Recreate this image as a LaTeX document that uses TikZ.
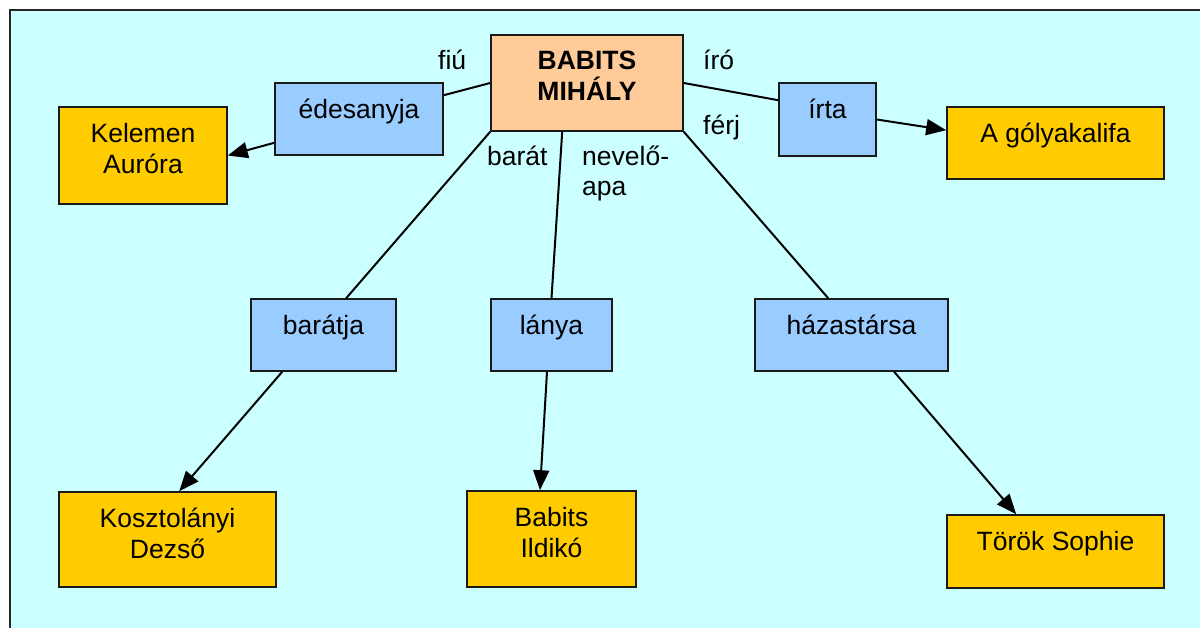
\documentclass[tikz,border=0pt]{standalone}
\usepackage{fontspec}
\setmainfont{Liberation Sans}
\usetikzlibrary{arrows.meta,calc}
\definecolor{bgcyan}{HTML}{CCFFFF}
\definecolor{relblue}{HTML}{99CCFF}
\definecolor{leafgold}{HTML}{FFCC00}
\definecolor{rootpeach}{HTML}{FFCC99}
\begin{document}
\begin{tikzpicture}[x=1pt,y=-1pt,
  box/.style={draw=black!90, line width=1.6pt, inner sep=0pt, rectangle},
  root/.style={box, fill=rootpeach},
  rel/.style={box, fill=relblue},
  leaf/.style={box, fill=leafgold},
  txt/.style={anchor=north, yshift=-17pt, align=center, inner sep=0pt, font=\fontsize{26.5}{30.5}\selectfont},
  link/.style={line width=2pt, draw=black},
  arr/.style={link, -{Triangle[length=20pt,width=16pt]}},
  lab/.style={inner sep=0pt, font=\fontsize{26.5}{30.5}\selectfont}]
\useasboundingbox (0,0) rectangle (1200,628);
\clip (0,0) rectangle (1200,628);
\fill[white] (0,0) rectangle (1200,628);
\draw[fill=bgcyan, line width=2pt, draw=black!85] (10,10) rectangle (1215,645);

% nodes
\node[root, minimum width=192, minimum height=96,
  label={[txt,font=\bfseries\fontsize{26.5}{30.5}\selectfont]north:{BABITS\\MIHÁLY}}] (bm) at (587,83) {};
\node[rel, minimum width=168, minimum height=72, label={[txt]north:{édesanyja}}] (ed) at (359,119) {};
\node[leaf, minimum width=168, minimum height=97, label={[txt]north:{Kelemen\\Auróra}}] (kel) at (143,155.5) {};
\node[rel, minimum width=97, minimum height=73, label={[txt]north:{írta}}] (irta) at (827.5,119.5) {};
\node[leaf, minimum width=217, minimum height=72, label={[txt]north:{A gólyakalifa}}] (goly) at (1055.5,143) {};
\node[rel, minimum width=145, minimum height=72, label={[txt]north:{barátja}}] (bar) at (323.5,335) {};
\node[rel, minimum width=121, minimum height=72, label={[txt]north:{lánya}}] (lanya) at (551.5,335) {};
\node[rel, minimum width=193, minimum height=72, label={[txt]north:{házastársa}}] (haz) at (851.5,335) {};
\node[leaf, minimum width=217, minimum height=95, label={[txt]north:{Kosztolányi\\Dezső}}] (kosz) at (167.5,539.5) {};
\node[leaf, minimum width=169, minimum height=96, label={[txt]north:{Babits\\Ildikó}}] (ild) at (551.5,539) {};
\node[leaf, minimum width=217, minimum height=73, label={[txt]north:{Török Sophie}}] (torok) at (1055.5,551.5) {};

% connectors
\draw[link] (bm.west) -- ($(ed.north east)+(0,13)$);
\draw[arr] ($(ed.south west)+(0,-13)$) -- (kel.east);
\draw[link] (bm.east) -- ($(irta.north west)+(0,18)$);
\draw[arr] (irta.east) -- ($(goly.north west)+(0,24)$);
\draw[link] (bm.south west) -- ($(bar.north west)+(96,0)$);
\draw[arr] ($(bar.south west)+(32,0)$) -- ($(kosz.north west)+(121,0)$);
\draw[link] ($(bm.south west)+(72,0)$) -- (lanya.north);
\draw[arr] ($(lanya.south)+(-4.5,0)$) -- ($(ild.north)+(-11.5,0)$);
\draw[link] (bm.south east) -- ($(haz.north west)+(74,0)$);
\draw[arr] ($(haz.south west)+(140,0)$) -- ($(torok.north west)+(70,0)$);

% connector labels
\node[lab, anchor=base west] (lfiu) at (438,70) {fiú};
\node[lab, anchor=base west] (liro) at (703,70) {író};
\node[lab, anchor=base west] (lferj) at (703,135) {férj};
\node[lab, anchor=base west] (lbarat) at (487,166) {barát};
\node[lab, anchor=base west] (lnev) at (582,166) {nevelő-};
\node[lab, anchor=base west] (lapa) at (582,196) {apa};
\end{tikzpicture}
\end{document}
